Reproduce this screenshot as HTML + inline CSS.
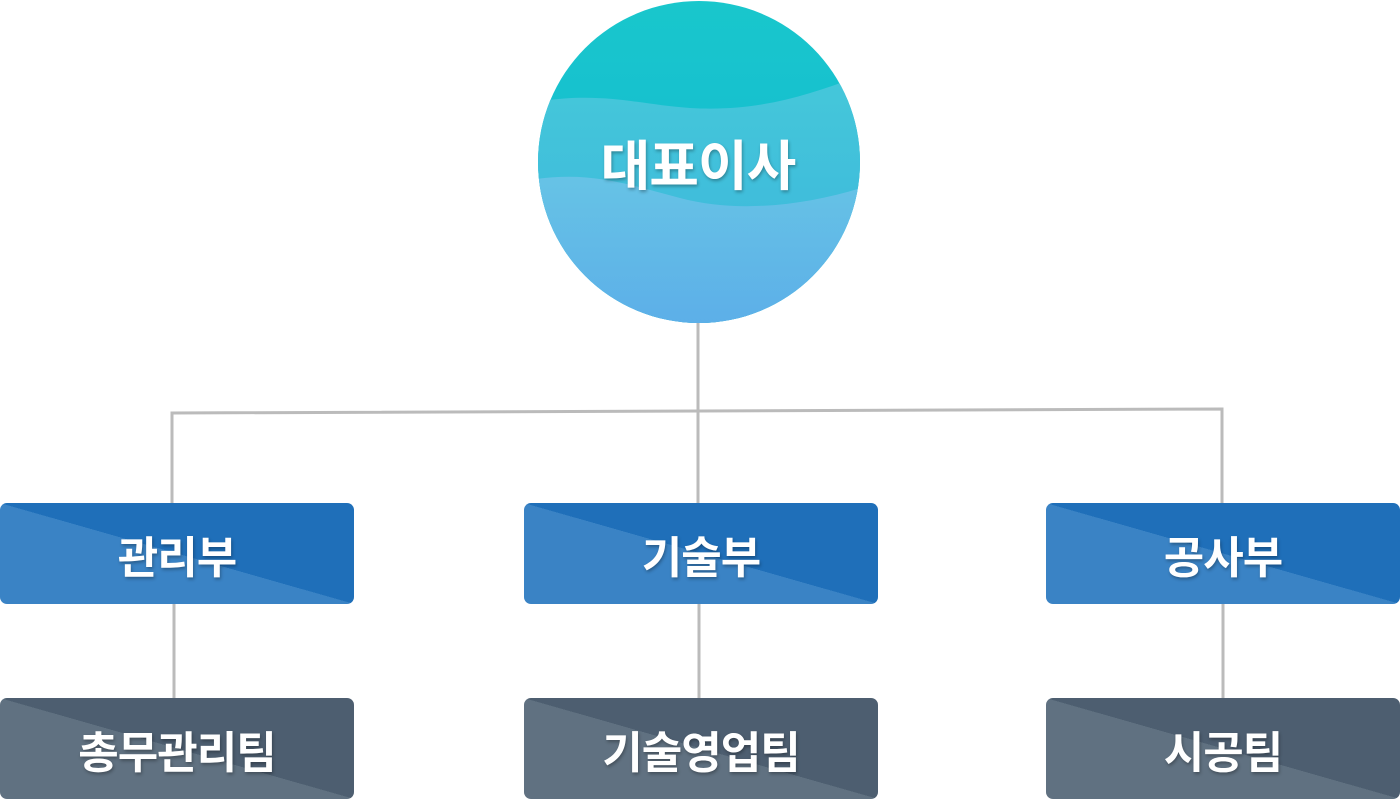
<!DOCTYPE html>
<html><head><meta charset="utf-8"><style>
body{margin:0;width:1400px;height:799px;background:#fff;position:relative;overflow:hidden;font-family:"Liberation Sans","Noto Sans CJK KR",sans-serif}
.b{position:absolute;width:354px;height:101px;border-radius:7px;color:#fff;font-weight:bold;font-size:44px;display:flex;align-items:center;justify-content:center;text-shadow:1px 2px 3px rgba(0,0,0,.3);letter-spacing:-1px}
.blue{background:linear-gradient(15.9deg,#3a83c5 50%,#1f6fb9 50%)}
.grey{background:linear-gradient(15.9deg,#607181 50%,#4d5e70 50%)}
.t{position:absolute;left:0;width:1400px;height:799px}
</style></head><body>
<svg class="t" width="1400" height="799">
<defs>
<clipPath id="c"><circle cx="699" cy="162" r="161"/></clipPath>
<linearGradient id="g1" x1="0" y1="0" x2="0" y2="1"><stop offset="0" stop-color="#19c7cc"/><stop offset="1" stop-color="#12b4d4"/></linearGradient>
<linearGradient id="g2" x1="0" y1="0" x2="0" y2="1"><stop offset="0" stop-color="#45c8da"/><stop offset="1" stop-color="#3ab3dc"/></linearGradient>
<linearGradient id="g3" x1="0" y1="0" x2="0" y2="1"><stop offset="0" stop-color="#66c3e6"/><stop offset="1" stop-color="#5caee8"/></linearGradient>
</defs>
<g stroke="#bbb" stroke-width="3" fill="none">
<line x1="698" y1="320" x2="698" y2="503"/>
<polyline points="172,503 172,413 1222,409 1222,503"/>
<line x1="174" y1="604" x2="174" y2="698"/>
<line x1="699" y1="604" x2="699" y2="698"/>
<line x1="1223" y1="604" x2="1223" y2="698"/>
</g>
<g clip-path="url(#c)">
<rect x="530" y="0" width="340" height="330" fill="url(#g1)"/>
<path d="M530,103 C600,90 640,105 690,108 C760,112 810,95 870,72 L870,330 L530,330Z" fill="url(#g2)"/>
<path d="M530,180 C590,170 630,185 680,198 C740,214 810,205 870,185 L870,330 L530,330Z" fill="url(#g3)"/>
</g>
<text x="698" y="185" text-anchor="middle" font-size="54" font-weight="bold" fill="#fff" letter-spacing="-1" font-family="Liberation Sans,Noto Sans CJK KR,sans-serif" style="text-shadow:1px 2px 3px rgba(0,0,0,.3)">대표이사</text>
</svg>
<div class="b blue" style="left:0;top:503px">관리부</div>
<div class="b blue" style="left:524px;top:503px">기술부</div>
<div class="b blue" style="left:1046px;top:503px">공사부</div>
<div class="b grey" style="left:0;top:698px">총무관리팀</div>
<div class="b grey" style="left:524px;top:698px">기술영업팀</div>
<div class="b grey" style="left:1046px;top:698px">시공팀</div>
</body></html>
